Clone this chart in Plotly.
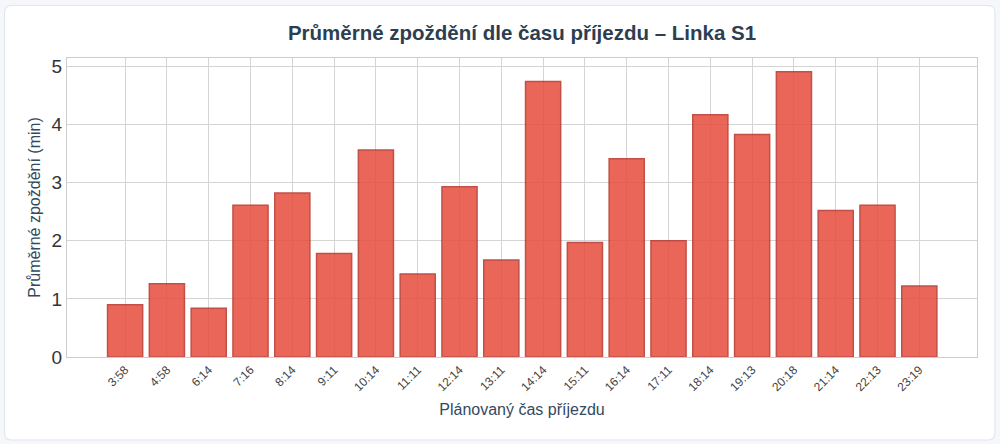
import plotly.graph_objects as go

# planned arrival times and mean delay in minutes
casy = ["3:58", "4:58", "6:14", "7:16", "8:14", "9:11", "10:14", "11:11", "12:14", "13:11",
        "14:14", "15:11", "16:14", "17:11", "18:14", "19:13", "20:18", "21:14", "22:13", "23:19"]
zpozdeni = [0.90, 1.26, 0.84, 2.61, 2.82, 1.78, 3.56, 1.43, 2.93, 1.67,
            4.74, 1.97, 3.41, 2.00, 4.17, 3.83, 4.91, 2.52, 2.61, 1.22]

W, H = 1000, 444
ML, MR, MT, MB = 67, 23, 58, 87
pw, ph = W - ML - MR, H - MT - MB


def px2paper(x, y):
    return (x - ML) / pw, (H - MB - y) / ph


def card_path(x0, y0, x1, y1, r):
    # rounded rectangle in paper coords, built from pixel positions
    pts = []
    a = px2paper(x0 + r, y0); pts.append(f"M{a[0]},{a[1]}")
    a = px2paper(x1 - r, y0); pts.append(f"L{a[0]},{a[1]}")
    c = px2paper(x1, y0); a = px2paper(x1, y0 + r); pts.append(f"Q{c[0]},{c[1]} {a[0]},{a[1]}")
    a = px2paper(x1, y1 - r); pts.append(f"L{a[0]},{a[1]}")
    c = px2paper(x1, y1); a = px2paper(x1 - r, y1); pts.append(f"Q{c[0]},{c[1]} {a[0]},{a[1]}")
    a = px2paper(x0 + r, y1); pts.append(f"L{a[0]},{a[1]}")
    c = px2paper(x0, y1); a = px2paper(x0, y1 - r); pts.append(f"Q{c[0]},{c[1]} {a[0]},{a[1]}")
    a = px2paper(x0, y0 + r); pts.append(f"L{a[0]},{a[1]}")
    c = px2paper(x0, y0); a = px2paper(x0 + r, y0); pts.append(f"Q{c[0]},{c[1]} {a[0]},{a[1]}")
    return " ".join(pts) + " Z"


fig = go.Figure(go.Bar(
    x=casy,
    y=zpozdeni,
    marker=dict(color="#e74c3c", opacity=0.85, line=dict(color="#b83227", width=1.5)),
))

fig.update_layout(
    width=W, height=H,
    margin=dict(l=ML, r=MR, t=MT, b=MB),
    paper_bgcolor="#f5f7fa",
    plot_bgcolor="white",
    font=dict(family="Liberation Sans, Arial, sans-serif", color="#34495e"),
    title=dict(text="<b>Průměrné zpoždění dle času příjezdu – Linka S1</b>",
               x=0.5, xref="paper", xanchor="center", y=1 - 33 / H, yanchor="middle",
               font=dict(size=20.5, color="#2c3e50")),
    bargap=0.16,
    showlegend=False,
    shapes=[dict(type="path", xref="paper", yref="paper", layer="below",
                 path=card_path(4.5, 5.5, 995, 440, 7),
                 fillcolor="white", line=dict(color="#e1e6ee", width=1.2))],
)

fig.update_xaxes(
    title=dict(text="Plánovaný čas příjezdu", font=dict(size=16, color="#34495e"), standoff=10),
    tickangle=-45, tickfont=dict(size=12, color="#444444"),
    range=[-1.39, 20.38],
    showgrid=True, gridcolor="#d4d4d4", gridwidth=1.2,
    showline=True, linecolor="#cccccc", linewidth=1.2, mirror=True,
    ticks="",
)
fig.update_yaxes(
    title=dict(text="Průměrné zpoždění (min)", font=dict(size=16, color="#34495e"), standoff=6),
    range=[0, 5.145], dtick=1, tickfont=dict(size=19, color="#333333"),
    showgrid=True, gridcolor="#d4d4d4", gridwidth=1.2,
    showline=True, linecolor="#cccccc", linewidth=1.2, mirror=True,
    zeroline=False, ticks="",
)

fig.write_html("out.html", config={"displayModeBar": False},
               post_script="document.body.style.margin='0';")
